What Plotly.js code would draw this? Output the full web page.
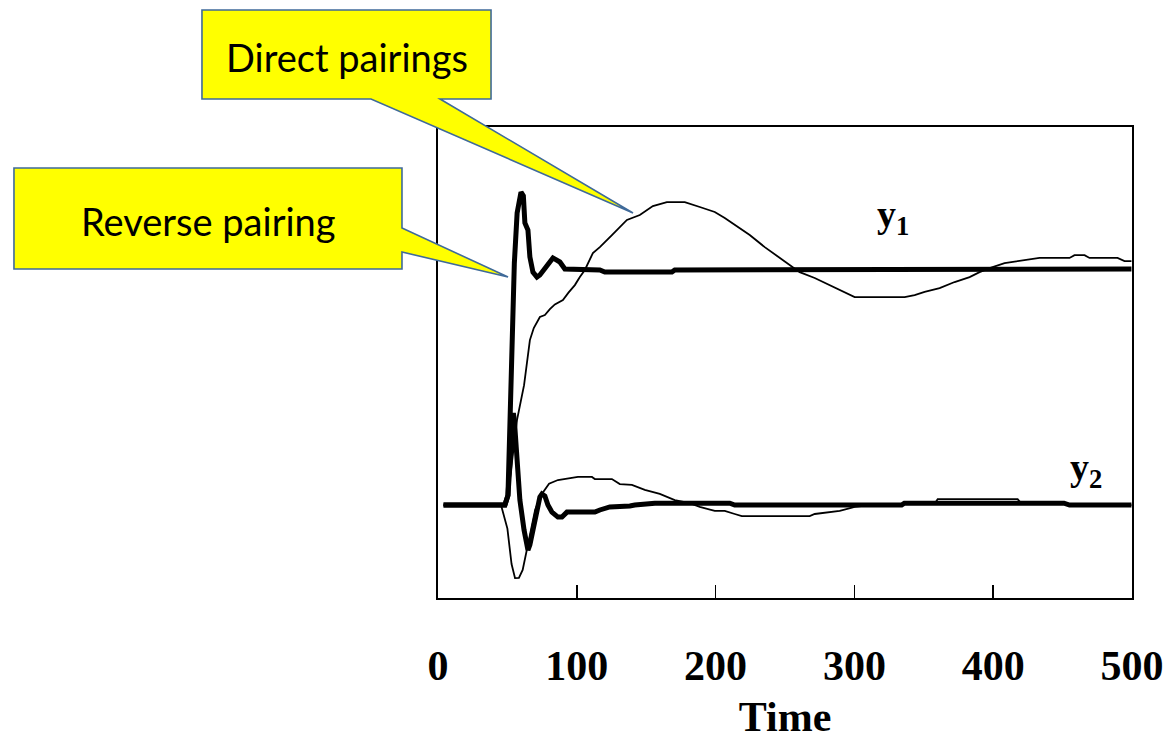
<!DOCTYPE html>
<html>
<head>
<meta charset="utf-8">
<script src="https://cdn.plot.ly/plotly-3.0.1.min.js"></script>
<style>
  html, body { margin: 0; padding: 0; background: #ffffff; }
  #chart { width: 1169px; height: 740px; }
</style>
</head>
<body>
<div id="chart"></div>
<script>
// Closed-loop responses of y1 and y2 after a setpoint step, for two loop pairings.

// Direct pairings (thin lines)
const timeY1Direct = [4, 48, 50, 53.3, 56.9, 62, 64.8, 66.2, 69, 73.4, 77, 80.6, 84.2, 90, 94, 98.6, 102.2, 105.8, 111.6, 116.6, 125.3, 136.1, 145.4, 154.8, 164.9, 177.8, 188.6, 199.4, 206.6, 213.8, 224.6, 235.4, 246.2, 253.4, 260.6, 271.4, 282.2, 293, 300.2, 336.2, 343.4, 350.6, 361.4, 372.2, 383, 390.2, 397.4, 408.2, 422.6, 433.4, 455, 458.6, 465.8, 469.4, 489.6, 494.6, 499.6];
const y1Direct = [0, 0, 0.02, 0.19, 0.36, 0.508, 0.644, 0.699, 0.75, 0.797, 0.805, 0.83, 0.85, 0.869, 0.9, 0.932, 0.966, 0.996, 1.068, 1.093, 1.144, 1.208, 1.229, 1.267, 1.284, 1.284, 1.263, 1.242, 1.216, 1.186, 1.144, 1.093, 1.047, 1.017, 0.987, 0.962, 0.932, 0.903, 0.881, 0.881, 0.89, 0.903, 0.919, 0.945, 0.966, 0.987, 1.004, 1.025, 1.038, 1.047, 1.047, 1.059, 1.059, 1.047, 1.047, 1.034, 1.034];

const timeY2Direct = [4, 45.4, 50, 53, 55.5, 58.3, 61, 64, 67, 70, 74.2, 80, 86.4, 100.8, 110.9, 113, 125.3, 131, 139.7, 149, 159.8, 170.6, 181.4, 188.6, 199.4, 206.6, 213.8, 218.9, 267.8, 271.4, 289.4, 300.2, 311, 334, 336, 358, 360, 417.6, 420, 451, 455, 499.6];
const y2Direct = [0, 0, -0.1, -0.25, -0.31, -0.309, -0.275, -0.19, -0.1, -0.02, 0.042, 0.09, 0.106, 0.119, 0.119, 0.11, 0.11, 0.089, 0.085, 0.064, 0.047, 0.021, 0.008, -0.008, -0.025, -0.025, -0.038, -0.047, -0.047, -0.038, -0.025, -0.008, 0, 0, 0.008, 0.008, 0.025, 0.025, 0.008, 0.008, 0, 0];

// Reverse pairing (thick lines)
const timeY1Reverse = [4, 48.2, 50.4, 51.8, 53.3, 55, 57, 59.8, 61.5, 62.6, 64.8, 66.2, 68.4, 71.3, 73.4, 77, 82.8, 87.8, 91.4, 116.6, 120.2, 168.5, 170.6, 499.6];
const y1Reverse = [0, 0, 0.04, 0.36, 0.742, 1.025, 1.237, 1.326, 1.31, 1.195, 1.165, 1.051, 0.987, 0.966, 0.975, 1.004, 1.047, 1.03, 1.0, 0.996, 0.987, 0.987, 0.996, 1.0];

const timeY2Reverse = [4, 48.2, 50.4, 51.8, 53.3, 54.3, 55, 56.9, 59, 62, 64.8, 66.2, 68.4, 71.3, 73.4, 74.9, 77, 79.2, 82.1, 86.4, 89.3, 92.9, 113, 116.6, 123.8, 138.2, 141.8, 156.2, 210.2, 213.8, 334, 336, 451, 455, 499.6];
const y2Reverse = [0, 0, 0.042, 0.148, 0.318, 0.39, 0.36, 0.191, 0.021, -0.106, -0.191, -0.169, -0.106, -0.021, 0.034, 0.047, 0.038, 0, -0.03, -0.051, -0.051, -0.03, -0.03, -0.021, -0.008, -0.004, 0, 0.008, 0.008, 0, 0, 0.008, 0.008, 0, 0];

const xTicks = [0, 100, 200, 300, 400, 500];

// Plot area in page pixels, used to place the callouts around it
const W = 1169, H = 740;
const M = { l: 438, r: 37, t: 127, b: 142 };
const plotW = W - M.l - M.r, plotH = H - M.t - M.b;
const px = (x) => (x - M.l) / plotW;
const py = (y) => (H - M.b - y) / plotH;
const pathFrom = (pts) => 'M ' + pts.map(p => px(p[0]).toFixed(4) + ',' + py(p[1]).toFixed(4)).join(' L ') + ' Z';

const serifBold = { family: 'Liberation Serif, Times New Roman, serif', size: 42, color: '#000000', weight: 'bold' };
const calloutFont = { family: 'Lato, Open Sans, sans-serif', size: 38, color: '#000000' };
const labelFont = { family: 'Liberation Serif, serif', size: 38, color: '#000000', weight: 'bold' };

const thin = { color: '#000000', width: 1.8 };
const thick = { color: '#000000', width: 5 };

const traces = [
  { x: timeY1Reverse, y: y1Reverse, mode: 'lines', line: thick, name: 'y1 reverse' },
  { x: timeY2Reverse, y: y2Reverse, mode: 'lines', line: thick, name: 'y2 reverse' },
  { x: timeY1Direct, y: y1Direct, mode: 'lines', line: thin, name: 'y1 direct' },
  { x: timeY2Direct, y: y2Direct, mode: 'lines', line: thin, name: 'y2 direct' }
];

const calloutStyle = { fillcolor: '#FFFF00', line: { color: '#3F6A9A', width: 1.6 }, layer: 'above', xref: 'paper', yref: 'paper', type: 'path' };

const layout = {
  width: W, height: H,
  margin: M,
  paper_bgcolor: '#ffffff', plot_bgcolor: '#ffffff',
  showlegend: false,
  xaxis: {
    range: [0, 500], tickvals: xTicks, ticktext: xTicks.map(String),
    ticks: 'inside', ticklen: 13, tickwidth: 1.5, tickcolor: '#000000',
    showline: true, linewidth: 2, linecolor: '#000000', mirror: true,
    showgrid: false, zeroline: false,
    tickfont: serifBold, ticklabelstandoff: 30,
    title: { text: 'Time', font: serifBold, standoff: 23 }
  },
  yaxis: {
    range: [-0.394, 1.602],
    showline: true, linewidth: 2, linecolor: '#000000', mirror: true,
    showgrid: false, zeroline: false, showticklabels: false, ticks: ''
  },
  shapes: [
    Object.assign({ path: pathFrom([[202, 10], [491, 10], [491, 99], [440, 99], [633, 213], [371, 99], [202, 99]]) }, calloutStyle),
    Object.assign({ path: pathFrom([[14, 168], [402, 168], [402, 228], [508, 277], [402, 252], [402, 269], [14, 269]]) }, calloutStyle)
  ],
  annotations: [
    { text: 'Direct pairings', xref: 'paper', yref: 'paper', x: px(346.5), y: py(57), xanchor: 'center', yanchor: 'middle', showarrow: false, font: calloutFont },
    { text: 'Reverse pairing', xref: 'paper', yref: 'paper', x: px(208), y: py(221), xanchor: 'center', yanchor: 'middle', showarrow: false, font: calloutFont },
    { text: 'y<sub>1</sub>', xref: 'x', yref: 'y', x: 328, y: 1.22, xanchor: 'center', yanchor: 'middle', showarrow: false, font: labelFont },
    { text: 'y<sub>2</sub>', xref: 'x', yref: 'y', x: 467, y: 0.148, xanchor: 'center', yanchor: 'middle', showarrow: false, font: labelFont }
  ]
};

Plotly.newPlot('chart', traces, layout, { staticPlot: true, displayModeBar: false });
</script>
</body>
</html>
